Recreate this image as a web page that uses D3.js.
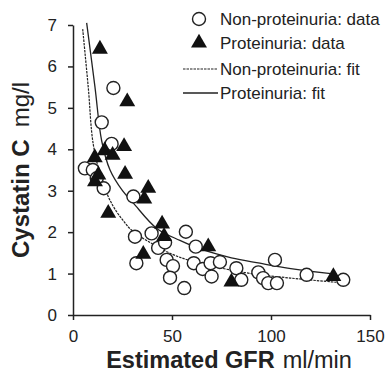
<!DOCTYPE html>
<meta charset="utf-8">
<style>
body { margin: 0; background: #fff; }
text { font-family: "Liberation Sans", Arial, sans-serif; fill: #222; }
.axis path, .axis line { stroke: #222; stroke-width: 1.5px; }
.axis text { font-size: 17px; }
.fit { fill: none; stroke: #222; stroke-width: 1.3px; }
.fit.dash { stroke-dasharray: 2.5,1; stroke-width: 1.2px; }
.open { fill: #fff; stroke: #222; stroke-width: 1.4px; }
.solid { fill: #111; }
</style>
<body>
<script src="https://cdn.jsdelivr.net/npm/d3@7"></script>
<script>

// non-proteinuria: data (open circles)
var nonProtX = [6, 10, 12, 14.5, 15.5, 19.5, 20.4, 30.5, 31.3, 32, 39.7, 43, 46.5, 47.3, 50.5,
                49, 56.2, 57, 62, 61, 65.5, 70, 69.5, 74.2, 82.5, 85, 93.6, 96, 98.6, 103, 102, 118, 136.5];
var nonProtY = [3.54, 3.5, 3.3, 4.65, 3.06, 4.13, 5.48, 2.86, 1.89, 1.25, 1.97, 1.62, 1.75, 1.33, 1.18,
                0.9, 0.65, 2.01, 1.65, 1.25, 1.11, 0.93, 1.25, 1.28, 1.13, 0.85, 1.03, 0.89, 0.77, 0.77, 1.33, 0.97, 0.85];

// proteinuria: data (filled triangles)
var protX = [11, 11.1, 12.8, 13.6, 16, 20, 17.8, 25.8, 26.3, 27.4, 35.5, 36, 38, 45, 46, 68.3, 80, 131.5];
var protY = [3.8, 3.22, 3.38, 6.42, 3.97, 3.86, 2.46, 4.07, 3.4, 5.15, 1.47, 2.8, 3.06, 2.2, 1.9, 1.65, 0.8, 0.93];

// fitted curves, points
var nonProtFitX = [4.9, 7.7, 10.3, 15, 20, 25, 30, 40, 50, 60, 75, 90, 110, 133];
var nonProtFitY = [6.9, 5.5, 4.1, 3.2, 2.65, 2.3, 2.03, 1.72, 1.47, 1.3, 1.13, 1.0, 0.89, 0.79];
var protFitX = [6.9, 11.1, 14.5, 18.7, 25, 30.5, 42.3, 54, 64, 80, 94.4, 110, 128, 133];
var protFitY = [7.05, 5.5, 4.2, 3.5, 3.0, 2.7, 2.09, 1.8, 1.6, 1.38, 1.25, 1.12, 1.01, 0.99];

var xTicks = [0, 50, 100, 150];
var yTicks = [0, 1, 2, 3, 4, 5, 6, 7];
var legendLabels = ["Non-proteinuria: data", "Proteinuria: data", "Non-proteinuria: fit", "Proteinuria: fit"];

var width = 392,
    height = 373;

var x = d3.scaleLinear().domain([0, 150]).range([73, 370]);
var y = d3.scaleLinear().domain([0, 7]).range([315, 25]);

var svg = d3.select("body").append("svg")
    .attr("width", width)
    .attr("height", height);

svg.append("g")
    .attr("class", "axis")
    .attr("transform", "translate(0," + y(0) + ")")
    .call(d3.axisBottom(x).tickValues(xTicks).tickFormat(d3.format("d"))
      .tickSize(5).tickSizeOuter(0).tickPadding(10));

svg.append("g")
    .attr("class", "axis")
    .attr("transform", "translate(" + x(0) + ",0)")
    .call(d3.axisLeft(y).tickValues(yTicks).tickFormat(d3.format("d"))
      .tickSize(5).tickSizeOuter(0).tickPadding(11));

svg.selectAll(".axis .domain").attr("stroke", "#222");

// axis titles
var xt = svg.append("text")
    .attr("x", 229)
    .attr("y", 368)
    .attr("text-anchor", "middle")
    .style("font-size", "23.5px");
xt.append("tspan").style("font-weight", "bold").text("Estimated GFR");
xt.append("tspan").attr("dx", 8).text("ml/min");

var yt = svg.append("text")
    .attr("transform", "translate(29," + ((y(0) + y(7)) / 2) + ") rotate(-90)")
    .attr("text-anchor", "middle")
    .style("font-size", "24px");
yt.append("tspan").style("font-weight", "bold").text("Cystatin C");
yt.append("tspan").attr("dx", 12).text("mg/l");

// fits
var line = d3.line()
    .x(function(d) { return x(d[0]); })
    .y(function(d) { return y(d[1]); })
    .curve(d3.curveCatmullRom);

svg.append("path")
    .attr("class", "fit dash")
    .attr("d", line(d3.zip(nonProtFitX, nonProtFitY)));

svg.append("path")
    .attr("class", "fit")
    .attr("d", line(d3.zip(protFitX, protFitY)));

// data
svg.append("g").selectAll("circle")
    .data(d3.zip(nonProtX, nonProtY))
  .enter().append("circle")
    .attr("class", "open")
    .attr("cx", function(d) { return x(d[0]); })
    .attr("cy", function(d) { return y(d[1]); })
    .attr("r", 6.5);

var tri = d3.symbol().type(d3.symbolTriangle).size(110);

svg.append("g").selectAll("path")
    .data(d3.zip(protX, protY))
  .enter().append("path")
    .attr("class", "solid")
    .attr("d", tri)
    .attr("transform", function(d) { return "translate(" + x(d[0]) + "," + y(d[1]) + ")"; });

// legend
var lg = svg.append("g").attr("transform", "translate(199,0)");
var rowY = [19, 43, 69, 93];

lg.append("circle").attr("class", "open").attr("cx", 0).attr("cy", rowY[0]).attr("r", 6.5);
lg.append("path").attr("class", "solid").attr("d", tri).attr("transform", "translate(0," + rowY[1] + ")");
lg.append("line").attr("class", "fit dash").attr("x1", -16).attr("x2", 19).attr("y1", rowY[2]).attr("y2", rowY[2]);
lg.append("line").attr("class", "fit").attr("x1", -16).attr("x2", 19).attr("y1", rowY[3]).attr("y2", rowY[3]);

lg.selectAll("text.lab")
    .data(legendLabels)
  .enter().append("text")
    .attr("class", "lab")
    .attr("x", 21)
    .attr("y", function(d, i) { return rowY[i] + 6; })
    .style("font-size", "17px")
    .text(function(d) { return d; });

</script>
